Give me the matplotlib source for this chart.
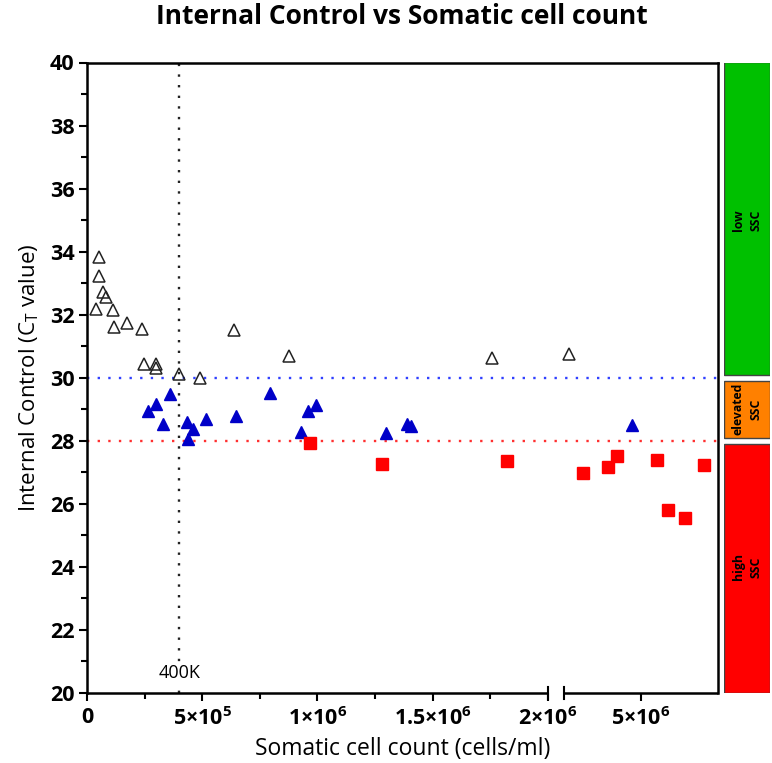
import numpy as np
import matplotlib
matplotlib.use("Agg")
import matplotlib.pyplot as plt

plt.rcParams['font.family'] = ['Open Sans', 'DejaVu Sans']
plt.rcParams['mathtext.fontset'] = 'custom'
plt.rcParams['mathtext.rm'] = 'Open Sans'
plt.rcParams['mathtext.bf'] = 'Open Sans:bold'

# data
low_x = [0.051e6, 0.051e6, 0.070e6, 0.082e6, 0.039e6, 0.112e6, 0.118e6, 0.172e6, 0.238e6,
         0.249e6, 0.298e6, 0.298e6, 0.40e6, 0.492e6, 0.637e6, 0.876e6, 1.756e6, 3.13e6]
low_y = [33.83, 33.24, 32.73, 32.56, 32.19, 32.15, 31.61, 31.73, 31.56,
         30.44, 30.45, 30.32, 30.13, 30.0, 31.5, 30.69, 30.62, 30.75]

elev_x = [0.361e6, 0.298e6, 0.263e6, 0.331e6, 0.432e6, 0.461e6, 0.439e6, 0.515e6, 0.647e6,
          0.794e6, 0.959e6, 0.992e6, 0.927e6, 1.296e6, 1.387e6, 1.405e6, 4.77e6]
elev_y = [29.47, 29.17, 28.94, 28.54, 28.6, 28.36, 28.07, 28.7, 28.78,
          29.53, 28.96, 29.13, 28.29, 28.25, 28.53, 28.47, 28.5]

high_x = [0.967e6, 1.280e6, 1.823e6, 3.49e6, 4.13e6, 4.38e6, 5.42e6, 5.69e6, 6.14e6, 6.64e6]
high_y = [27.93, 27.26, 27.37, 26.97, 27.17, 27.51, 27.4, 25.79, 25.56, 27.23]

cutoff_scc = 400000
ct_low = 30
ct_high = 28

xticks = [0, 5e5, 1e6, 1.5e6, 2e6, 5e6]
xticklabels = ['0', r'$\mathbf{5{\times}10^{5}}$', r'$\mathbf{1{\times}10^{6}}$',
               r'$\mathbf{1.5{\times}10^{6}}$', r'$\mathbf{2{\times}10^{6}}$',
               r'$\mathbf{5{\times}10^{6}}$']
xminor = [2.5e5, 7.5e5, 1.25e6, 1.75e6]

bands = ['low\nSSC', 'elevated\nSSC', 'high\nSSC']
band_lo = [30, 28, 20]
band_hi = [40, 30, 28]
band_col = ['#00c000', '#ff8000', '#ff0000']

# broken x axis: 0-2e6 linear, gap, 3e6-7e6 compressed
B1, B2 = 2e6, 3e6
GAP = 0.0711e6
K = 0.167


def fwd(x):
    x = np.asarray(x, float)
    return np.where(x <= B1, x,
                    np.where(x <= B2, B1 + (x - B1) / (B2 - B1) * GAP, B1 + GAP + (x - B2) * K))


def inv(u):
    u = np.asarray(u, float)
    return np.where(u <= B1, u,
                    np.where(u <= B1 + GAP, B1 + (u - B1) / GAP * (B2 - B1), B2 + (u - B1 - GAP) / K))


fig = plt.figure(figsize=(7.72, 7.63), dpi=100)
ax = fig.add_axes([87/772, 70/763, 631/772, 630.5/763])
ax.set_xscale('function', functions=(fwd, inv))

ax.plot(low_x, low_y, '^', ms=8.5, mfc='none', mec='#222222', mew=1.1, zorder=4)
ax.plot(elev_x, elev_y, '^', ms=8, color='#0000c8', zorder=4)
ax.plot(high_x, high_y, 's', ms=8, color='#ff0000', zorder=4)

ax.axhline(ct_low, color='#3040ff', ls=(0, (1, 3.5)), lw=1.7, zorder=2)
ax.axhline(ct_high, color='#ff3030', ls=(0, (1, 3.5)), lw=1.7, zorder=2)
ax.axvline(cutoff_scc, color='#222222', ls=(0, (1, 3.5)), lw=1.7, zorder=2)
ax.text(cutoff_scc, 20.63, '400K', ha='center', va='center', fontsize=13,
        bbox=dict(fc='white', ec='none', pad=1), zorder=3)

ax.set_xlim(0, 7e6)
ax.set_ylim(20, 40)
ax.set_xticks(xticks)
ax.set_xticklabels(xticklabels)
ax.set_xticks(xminor, minor=True)
ax.set_yticks(np.arange(20, 41, 2))
ax.set_yticks(np.arange(21, 40, 2), minor=True)
for lab in ax.get_yticklabels() + ax.get_xticklabels():
    lab.set_fontweight('bold')
    lab.set_fontsize(15.5)
ax.tick_params(which='major', length=6, width=1.5, direction='out')
ax.tick_params(which='minor', length=4, width=1.5, direction='out')
ax.tick_params(axis='x', pad=4)
ax.tick_params(axis='y', pad=3)

for s in ['left', 'top', 'right']:
    ax.spines[s].set_linewidth(1.8)
ax.spines['bottom'].set_visible(False)
xt = ax.get_xaxis_transform()
ax.plot([0, B1], [0, 0], color='black', lw=1.8, transform=xt, clip_on=False, solid_capstyle='butt')
ax.plot([B2, 7e6], [0, 0], color='black', lw=1.8, transform=xt, clip_on=False, solid_capstyle='butt')
for bx in [B1, B2]:
    ax.plot([bx, bx], [-0.009, 0.009], color='black', lw=1.5, transform=xt, clip_on=False)

ax.set_xlabel('Somatic cell count (cells/ml)', fontsize=16.5, labelpad=5)
ax.set_ylabel(r'Internal Control (C$_\mathrm{T}$ value)', fontsize=16, labelpad=6)
fig.text(0.52, 0.996, 'Internal Control vs Somatic cell count', fontsize=19,
         fontweight='bold', ha='center', va='top')

# SSC category bar on the right
bax = fig.add_axes([724/772, 70/763, 46/772, 630.5/763])
bax.set_ylim(20, 40)
bax.set_xlim(0, 1)
bax.axis('off')
for name, lo, hi, c in zip(bands, band_lo, band_hi, band_col):
    b = lo + 0.09 if lo > 20 else lo
    t = hi - 0.09 if hi < 40 else hi
    bax.bar(0.5, t - b, bottom=b, width=1, color=c, edgecolor='#444444', lw=1)
    bax.text(0.5, (lo + hi) / 2, name, rotation=90, ha='center', va='center',
             fontsize=8.8, fontweight='bold', linespacing=1.45)

fig.savefig('out.png', dpi=100)
